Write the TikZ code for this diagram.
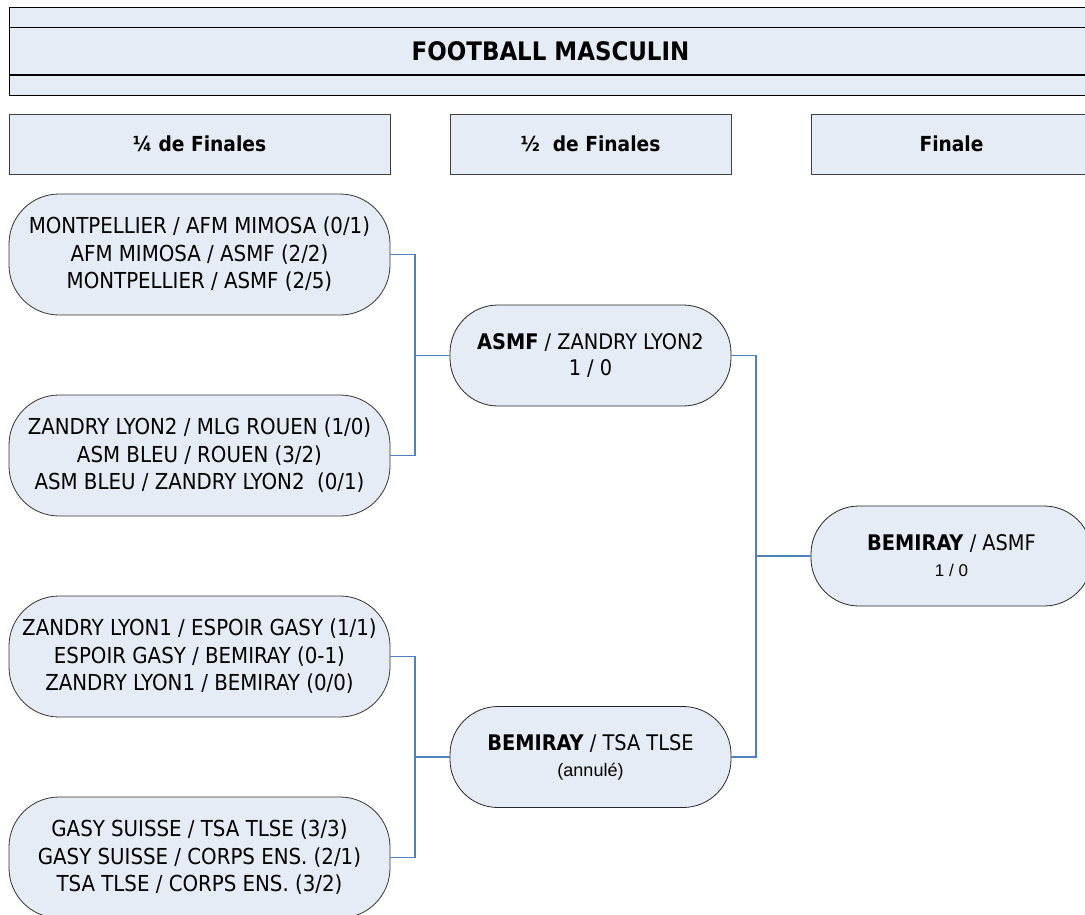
\documentclass[tikz,border=0pt]{standalone}
\usepackage{fontspec}
\setmainfont{DejaVu Sans Condensed}
\newfontfamily\smallfont{Liberation Sans}
\usepackage{xcolor}
\usetikzlibrary{positioning}
\definecolor{boxfill}{RGB}{230,236,246}
\definecolor{linkblue}{RGB}{79,129,189}

\begin{document}
\begin{tikzpicture}[x=1pt, y=-1pt,
    band/.style={draw, fill=boxfill, line width=0.9pt, minimum width=1083pt, inner sep=0pt},
    head/.style={draw=black!75, fill=boxfill, line width=0.9pt, minimum height=60pt, inner sep=0pt, font=\fontsize{20.7}{24}\bfseries\selectfont},
    quart/.style={draw=black!80, fill=boxfill, line width=0.8pt, rounded corners=50pt, minimum width=381pt, minimum height=121pt, align=center, inner sep=0pt, font=\fontsize{22}{27.5}\selectfont},
    demi/.style={draw=black!85, fill=boxfill, line width=0.8pt, rounded corners=48pt, minimum width=281pt, minimum height=101pt, align=center, inner sep=0pt, font=\fontsize{21.5}{26}\selectfont},
    petit/.style={font=\smallfont\fontsize{18}{20}\selectfont},
    link/.style={draw=linkblue, line width=1.1pt}]
    \useasboundingbox (0,0) rectangle (1085,914);
    \clip (0,0) rectangle (1085,914);

    % titre
    \node[band, minimum height=20pt] (T1) at (550.5,17) {};
    \node[band, minimum height=47pt, below = 0pt of T1, font=\fontsize{25.5}{30}\bfseries\selectfont] (T2) {FOOTBALL MASCULIN};
    \node[band, minimum height=20pt, below = 0pt of T2] (T3) {};

    % entetes
    \node[head, minimum width=381pt] (H1) at (199.5,144) {¼ de Finales};
    \node[head, minimum width=281pt] (H2) at (590.5,144) {½ \ de Finales};
    \node[head, minimum width=281pt] (H3) at (951.5,144) {Finale};

    % quarts
    \node[quart] (Q1) at (199.5,254.5) {MONTPELLIER / AFM MIMOSA (0/1)\\AFM MIMOSA / ASMF (2/2)\\MONTPELLIER / ASMF (2/5)};
    \node[quart] (Q2) at (199.5,455.5) {ZANDRY LYON2 / MLG ROUEN (1/0)\\ASM BLEU / ROUEN (3/2)\\ASM BLEU / ZANDRY LYON2 \ (0/1)};
    \node[quart] (Q3) at (199.5,656.5) {ZANDRY LYON1 / ESPOIR GASY (1/1)\\ESPOIR GASY / BEMIRAY (0-1)\\ZANDRY LYON1 / BEMIRAY (0/0)};
    \node[quart] (Q4) at (199.5,857.5) {GASY SUISSE / TSA TLSE (3/3)\\GASY SUISSE / CORPS ENS. (2/1)\\TSA TLSE / CORPS ENS. (3/2)};

    % demies
    \node[demi] (S1) at (590.5,355.5) {\textbf{ASMF} / ZANDRY LYON2\\1 / 0};
    \node[demi] (S2) at (590.5,757) {\textbf{BEMIRAY} / TSA TLSE\\{\smallfont\fontsize{18}{20}\selectfont (annulé)}};

    % finale
    \node[demi, minimum height=100pt] (F) at (951.5,556) {\textbf{BEMIRAY} / ASMF\\{\smallfont\fontsize{17}{20}\selectfont 1 / 0}};

    \coordinate (J1) at (415,355.5);
    \coordinate (J2) at (415,757);
    \coordinate (J3) at (756,556);

    \draw[link] (Q1.east) -| (J1) -- (S1.west);
    \draw[link] (Q2.east) -| (J1);
    \draw[link] (Q3.east) -| (J2) -- (S2.west);
    \draw[link] (Q4.east) -| (J2);
    \draw[link] (S1.east) -| (J3) -- (F.west);
    \draw[link] (S2.east) -| (J3);
\end{tikzpicture}
\end{document}
